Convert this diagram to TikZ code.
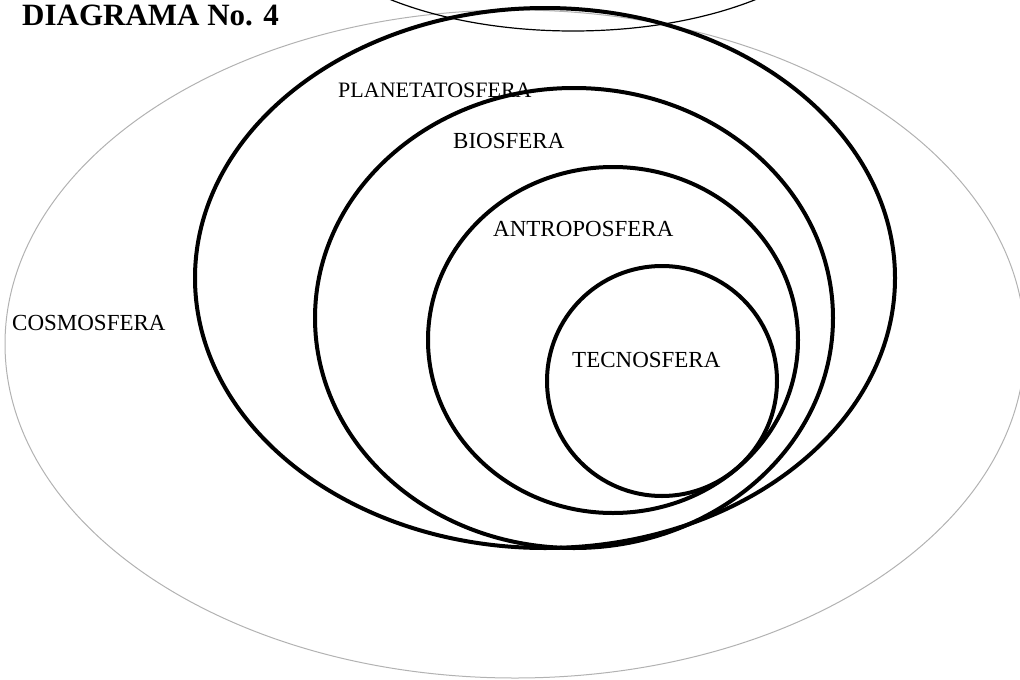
\documentclass[tikz,border=0pt]{standalone}
\usepackage{fontspec}
\setmainfont{Liberation Serif}
\usetikzlibrary{positioning}
\tikzstyle{esfera}=[draw, line width=4pt]
\tikzstyle{contorno}=[draw, gray!60, line width=1pt]
\tikzstyle{rotulo}=[anchor=west, inner sep=0pt, font=\fontsize{23}{23}\selectfont]

\begin{document}
\begin{tikzpicture}[x=1pt, y=-1pt]
            \useasboundingbox (0,0) rectangle (1020,680);
            \clip (0,0) rectangle (1020,680);

            \draw[contorno] (515,344) ellipse [x radius=510, y radius=334];
            \draw[line width=1.2pt] (573,-99) ellipse [x radius=280, y radius=130];

            \draw[esfera] (545,278) ellipse [x radius=350, y radius=270];
            \draw[esfera] (574,318) ellipse [x radius=259, y radius=230];
            \draw[esfera] (613,340) ellipse [x radius=185, y radius=173];
            \draw[esfera] (662,381) circle [radius=115];

            \node[rotulo, font=\bfseries\fontsize{31}{31}\selectfont] (titulo) at (22,15) {DIAGRAMA No. 4};
            \node[rotulo] (cosmos) at (12,323) {COSMOSFERA};
            \node[rotulo, font=\fontsize{22}{22}\selectfont] (planeta) at (338,90) {PLANETATOSFERA};
            \node[rotulo] (bio) at (453,141) {BIOSFERA};
            \node[rotulo] (antropo) at (493,229) {ANTROPOSFERA};
            \node[rotulo] (tecno) at (572,360) {TECNOSFERA};
        \end{tikzpicture}
\end{document}
